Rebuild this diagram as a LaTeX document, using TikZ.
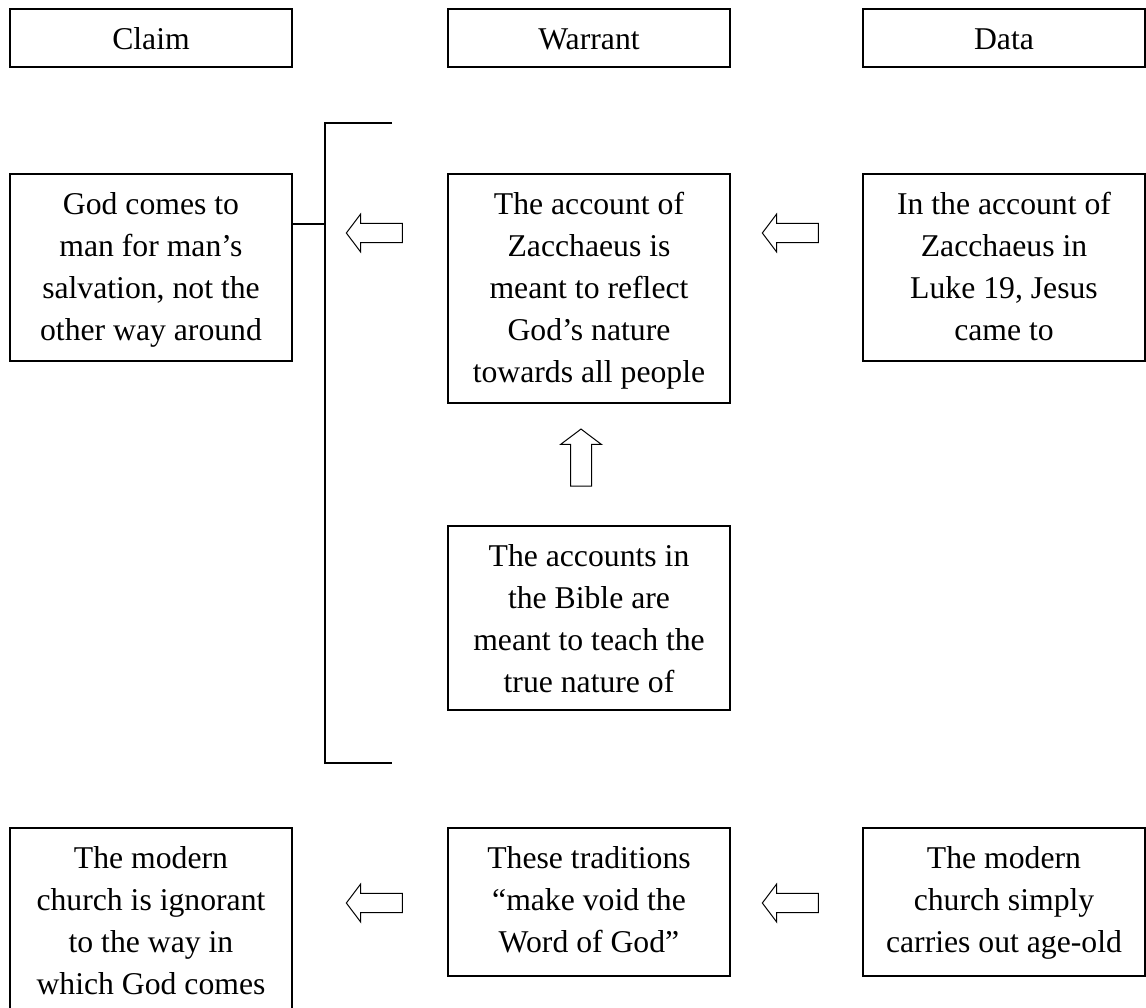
\documentclass[tikz,border=0pt]{standalone}
\usepackage{fontspec}
\setmainfont{Liberation Serif}
\usetikzlibrary{shapes.arrows}

\newcommand{\boxtext}[1]{\parbox[t]{280pt}{\centering #1}}

\tikzset{
  frame/.style={draw, line width=1.2pt, rectangle, anchor=north west,
    inner sep=0pt, outer sep=0pt, minimum width=282pt},
  label/.style={anchor=base, inner sep=0pt,
    font=\fontsize{31.7}{42}\selectfont},
  blockarrow/.style={draw, line width=1pt, single arrow, inner xsep=0pt,
    inner ysep=9.2pt, single arrow head extend=9.3pt,
    single arrow head indent=0pt, single arrow tip angle=106,
    minimum height=56pt},
  leftarrow/.style={blockarrow, shape border rotate=180},
  uparrow/.style={blockarrow, shape border rotate=90, inner xsep=10pt,
    inner ysep=0pt, single arrow head extend=10pt, minimum height=57pt},
  bracket/.style={line width=1.2pt}
}

\begin{document}
\begin{tikzpicture}[x=1pt,y=-1pt]
\path[use as bounding box] (0,0) rectangle (1146,1007);
\clip (0,0) rectangle (1146,1007);

% column headings
\node[frame, minimum height=58pt] (hclaim) at (10,9) {};
\node[frame, minimum height=58pt] (hwarrant) at (448,9) {};
\node[frame, minimum height=58pt] (hdata) at (863,9) {};
\node[label] (hclaimt) at (151,49) {Claim};
\node[label] (hwarrantt) at (589,49) {Warrant};
\node[label] (hdatat) at (1004,49) {Data};

% first argument
\node[frame, minimum height=187pt] (claimA) at (10,174) {};
\node[frame, minimum height=229pt] (warrantA) at (448,174) {};
\node[frame, minimum height=187pt] (dataA) at (863,174) {};
\node[frame, minimum height=184pt] (backingA) at (448,526) {};

\node[label] (claimAt) at (151,214) {\boxtext{God comes to\\man for man’s\\salvation, not the\\other way around}};
\node[label] (warrantAt) at (589,214) {\boxtext{The account of\\Zacchaeus is\\meant to reflect\\God’s nature\\towards all people}};
\node[label] (dataAt) at (1004,214) {\boxtext{In the account of\\Zacchaeus in\\Luke 19, Jesus\\came to}};
\node[label] (backingAt) at (589,566) {\boxtext{The accounts in\\the Bible are\\meant to teach the\\true nature of}};

\node[leftarrow] (arrA1) at (378,233) {};
\node[leftarrow] (arrA2) at (794,233) {};
\node[uparrow] (arrUp) at (581,461.5) {};

% bracket joining the claim to warrant and backing
\coordinate (btop) at (392,123);
\coordinate (bbot) at (392,763);
\coordinate (bmid) at (325,224);
\draw[bracket] (btop) -- (325,123) -- (325,763) -- (bbot);
\draw[bracket] (claimA.east |- bmid) -- (bmid);

% second argument
\node[frame, minimum height=230pt] (claimB) at (10,828) {};
\node[frame, minimum height=148pt] (warrantB) at (448,828) {};
\node[frame, minimum height=148pt] (dataB) at (863,828) {};

\node[label] (claimBt) at (151,868) {\boxtext{The modern\\church is ignorant\\to the way in\\which God comes}};
\node[label] (warrantBt) at (589,868) {\boxtext{These traditions\\“make void the\\Word of God”}};
\node[label] (dataBt) at (1004,868) {\boxtext{The modern\\church simply\\carries out age-old}};

\node[leftarrow] (arrB1) at (378,903) {};
\node[leftarrow] (arrB2) at (794,903) {};
\end{tikzpicture}
\end{document}
